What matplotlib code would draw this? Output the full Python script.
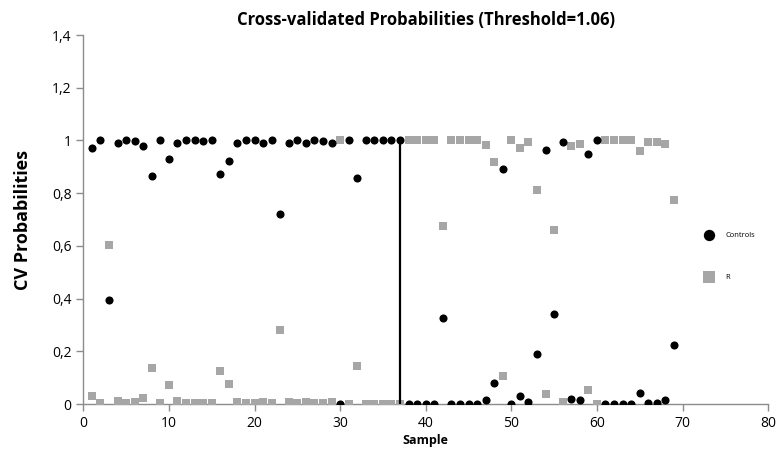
import matplotlib
matplotlib.use("Agg")
import matplotlib.pyplot as plt
from matplotlib.ticker import FuncFormatter, MultipleLocator

# ==============================================================
# DATA
# ==============================================================

samples = list(range(1, 70))

controls = [
    0.97, 1.0, 0.395, 0.99, 1.0, 0.997, 0.98, 0.864, 1.0, 0.93,
    0.99, 1.0, 1.0, 0.998, 1.0, 0.874, 0.923, 0.99, 1.0, 1.0,
    0.99, 1.0, 0.72, 0.99, 1.0, 0.99, 1.0, 0.997, 0.99, 0.0,
    1.0, 0.857, 1.0, 1.0, 1.0, 1.0, 1.0, 0.0, 0.0, 0.0,
    0.0, 0.325, 0.0, 0.0, 0.0, 0.0, 0.016, 0.08, 0.893, 0.0,
    0.03, 0.008, 0.19, 0.965, 0.34, 0.994, 0.02, 0.017, 0.947, 1.0,
    0.0, 0.0, 0.0, 0.0, 0.04, 0.005, 0.005, 0.014, 0.225,
]

r_probs = [
    0.03, 0.003, 0.605, 0.01, 0.003, 0.009, 0.021, 0.137, 0.003, 0.072,
    0.01, 0.003, 0.003, 0.005, 0.003, 0.126, 0.077, 0.009, 0.003, 0.003,
    0.009, 0.003, 0.28, 0.009, 0.003, 0.009, 0.003, 0.005, 0.009, 1.0,
    0.0, 0.143, 0.0, 0.0, 0.0, 0.0, 0.0, 1.0, 1.0, 1.0,
    1.0, 0.675, 1.0, 1.0, 1.0, 1.0, 0.984, 0.92, 0.107, 1.0,
    0.97, 0.994, 0.813, 0.037, 0.66, 0.009, 0.98, 0.985, 0.055, 0.0,
    1.0, 1.0, 1.0, 1.0, 0.96, 0.995, 0.995, 0.985, 0.775,
]

threshold_sample = 37
x_ticks = [0, 10, 20, 30, 40, 50, 60, 70, 80]

# ==============================================================
# DRAW
# ==============================================================

plt.rcParams["font.family"] = ["Open Sans", "DejaVu Sans"]

fig = plt.figure(figsize=(7.8, 4.7), dpi=100)
ax = fig.add_axes([0.1068, 0.1404, 0.878, 0.785])

ax.scatter(samples, r_probs, marker="s", s=40, color="#a6a6a6",
           linewidths=0, label="R", zorder=3)
ax.scatter(samples, controls, marker="o", s=34, color="black",
           linewidths=0, label="Controls", zorder=4)

ax.plot([threshold_sample, threshold_sample], [0, 1], color="black",
        linewidth=1.6, zorder=5)

ax.set_xlim(0, 80)
ax.set_ylim(0, 1.4)
ax.set_xticks(x_ticks)
ax.yaxis.set_major_locator(MultipleLocator(0.2))


def comma_fmt(v, _pos):
    if abs(v - round(v)) < 1e-9:
        return str(int(round(v)))
    return f"{v:.1f}".replace(".", ",")


ax.yaxis.set_major_formatter(FuncFormatter(comma_fmt))

for side in ("top", "right"):
    ax.spines[side].set_visible(False)
for side in ("left", "bottom"):
    ax.spines[side].set_color("#8c8c8c")
    ax.spines[side].set_linewidth(1.0)

ax.tick_params(axis="both", colors="#8c8c8c", length=5, width=1.0,
               labelcolor="black", labelsize=10)

ax.set_title("Cross-validated Probabilities (Threshold=1.06)",
             fontsize=12, fontweight="bold", pad=7)
ax.set_ylabel("CV Probabilities", fontsize=13, fontweight="bold", labelpad=14)
ax.set_xlabel("Sample", fontsize=9, fontweight="bold", labelpad=2)

handles, labels = ax.get_legend_handles_labels()
ax.legend(handles[::-1], labels[::-1], loc="center left",
          bbox_to_anchor=(0.892, 0.40), frameon=False, fontsize=5.5,
          labelspacing=4.6, handletextpad=1.2, markerscale=1.4)

fig.savefig("out.png", dpi=100)
